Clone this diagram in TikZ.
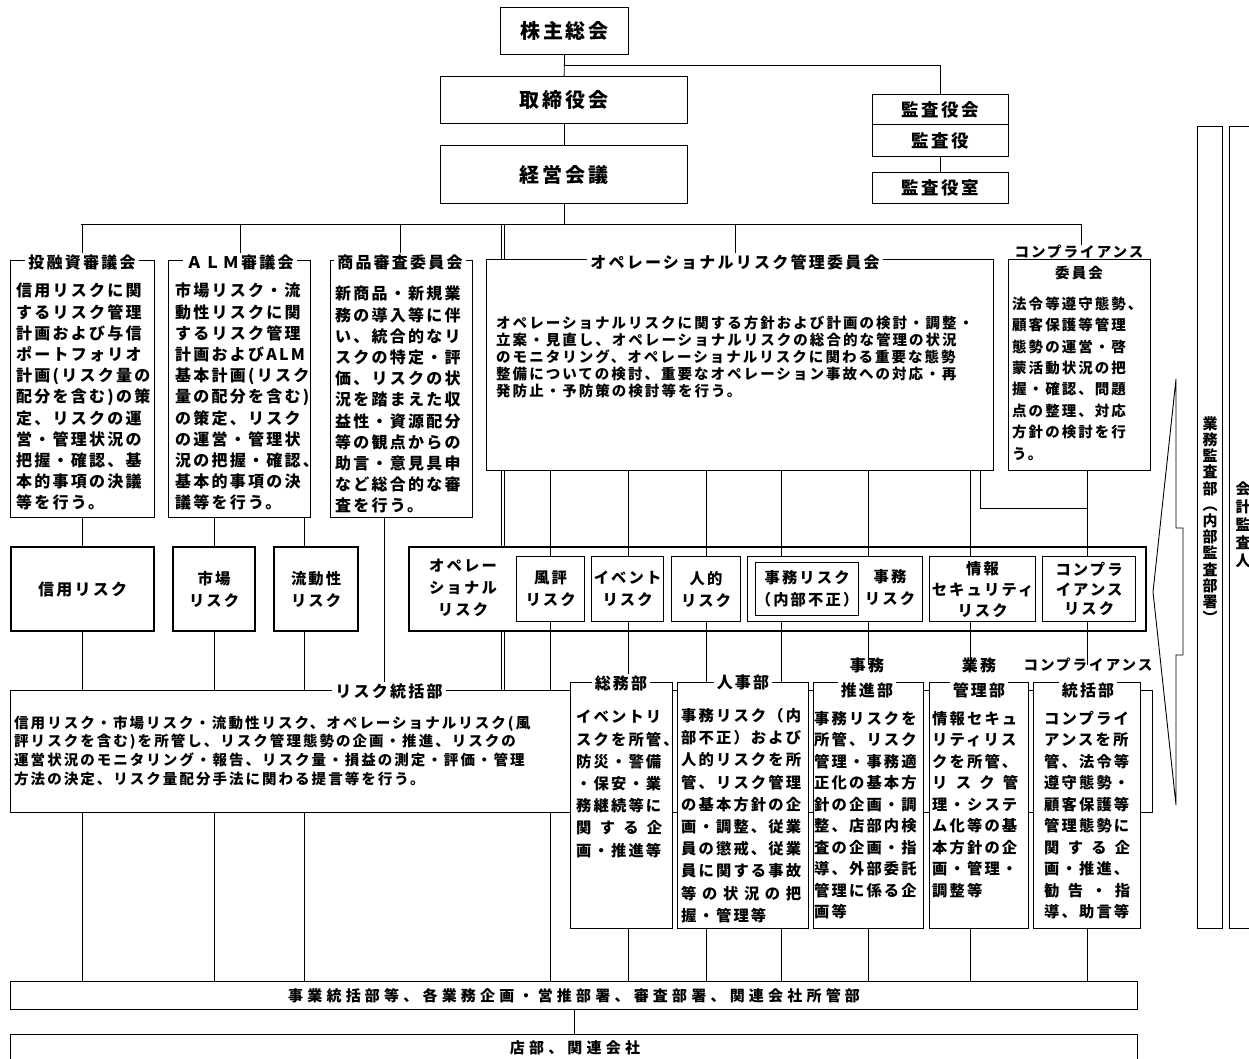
\documentclass[tikz,border=0pt]{standalone}
\usepackage{fontspec}
\newfontfamily\jp[LetterSpace=14]{Noto Sans CJK JP}
\newfontfamily\jpw[LetterSpace=28]{Noto Sans CJK JP}
\usetikzlibrary{calc}
\pgfdeclarelayer{bgfill}
\pgfdeclarelayer{bg}
\pgfsetlayers{bgfill,bg,main}
\newcommand\fBig{\jp\bfseries\fontsize{20}{24}\selectfont}
\newcommand\fKan{\jp\bfseries\fontsize{17.5}{20}\selectfont}
\newcommand\fCom{\jp\bfseries\fontsize{16}{21.2}\selectfont}
\newcommand\fOp{\jp\bfseries\fontsize{14.5}{17}\selectfont}
\newcommand\fRd{\jp\bfseries\fontsize{14.5}{18.8}\selectfont}
\newcommand\fDep{\jp\bfseries\fontsize{15.3}{21.5}\selectfont}
\newcommand\fDepB{\jp\bfseries\fontsize{15.3}{22.2}\selectfont}
\newcommand\fRisk{\jp\bfseries\fontsize{15.3}{22}\selectfont}
\newcommand\fBar{\jpw\bfseries\fontsize{15}{18}\selectfont}
\newcommand\fVert{\jp\bfseries\fontsize{15}{16.2}\selectfont}
\newcommand\BX[6][]{\node[box,#1,minimum width={#5-#3},minimum height={#6-#4}] (#2) at (#3,#4) {};}
\newcommand\JL[2]{\hbox to #1{#2}}
\begin{document}
\begin{tikzpicture}[x=1pt,y=-1pt,
  box/.style={draw,line width=1.2pt,fill=white,inner sep=0pt,anchor=north west},
  tbox/.style={line width=2.2pt},
  tx/.style={inner sep=0pt,anchor=north west,align=left},
  ttl/.style={fill=white,inner xsep=3pt,inner ysep=1pt,align=center},
  cen/.style={inner sep=0pt,align=center},
  ln/.style={line width=0.8pt}]
\begin{pgfonlayer}{bgfill}
\fill[white] (0,0) rectangle (1249,1059);
\end{pgfonlayer}
\useasboundingbox (0,0) rectangle (1249,1059);

% ---------- top ----------
\BX{kabu}{500}{7}{628}{54}
\node[cen,font=\fBig] (kabu-t) at (kabu) {株主総会};
\BX{tori}{440}{76}{687}{123}
\node[cen,font=\fBig] (tori-t) at (tori) {取締役会};
\BX{keiei}{440}{145}{687}{203}
\node[cen,font=\fBig] (keiei-t) at (keiei) {経営会議};
\BX{kansakai}{872}{94}{1008}{124}
\node[cen,font=\fKan] (kansakai-t) at (kansakai) {監査役会};
\BX{kansa}{872}{124}{1008}{156}
\node[cen,font=\fKan] (kansa-t) at (kansa) {監査役};
\BX{kansashitsu}{872}{172}{1008}{203}
\node[cen,font=\fKan] (kansashitsu-t) at (kansashitsu) {監査役室};

\coordinate (y65) at (0,65);
\coordinate (bus) at (0,224);
\coordinate (y508) at (0,508);
\foreach \n/\v in {x81/81,x1081/1081,x501/501,x504/504,x304/304,x384/384,x550/550,x628/628,x706/706,x781/781,x868/868,x970/970,x980/980,x1087/1087}
  \coordinate (\n) at (\v,0);

% ---------- committees ----------
\BX{tyu}{10}{260}{154}{517}
\node[ttl,font=\fCom] (tyu-h) at (82,262) {投融資審議会};
\node[tx,font=\fCom] (tyu-t) at (16,283) {信用リスクに関\\するリスク管理\\計画および与信\\ポートフォリオ\\計画(リスク量の\\配分を含む)の策\\定、リスクの運\\営・管理状況の\\把握・確認、基\\本的事項の決議\\等を行う。};

\BX{alm}{168}{260}{310}{517}
\node[ttl,font=\fCom] (alm-h) at (240,262) {ＡＬＭ審議会};
\node[tx,font=\fCom] (alm-t) at (175,283) {市場リスク・流\\動性リスクに関\\するリスク管理\\計画およびALM\\基本計画(リスク\\量の配分を含む)\\の策定、リスク\\の運営・管理状\\況の把握・確認、\\基本的事項の決\\議等を行う。};

\BX{shohin}{330}{260}{472}{517}
\node[ttl,font=\fCom] (shohin-h) at (400,262) {商品審査委員会};
\node[tx,font=\fCom] (shohin-t) at (335,286) {新商品・新規業\\務の導入等に伴\\い、統合的なリ\\スクの特定・評\\価、リスクの状\\況を踏まえた収\\益性・資源配分\\等の観点からの\\助言・意見具申\\など総合的な審\\査を行う。};

\BX{opc}{486}{259}{993}{470}
\node[ttl,font=\fCom] (opc-h) at (735,262) {オペレーショナルリスク管理委員会};
\node[tx,font=\fOp] (opc-t) at (496,315.5) {オペレーショナルリスクに関する方針および計画の検討・調整・\\立案・見直し、オペレーショナルリスクの総合的な管理の状況\\のモニタリング、オペレーショナルリスクに関わる重要な態勢\\整備についての検討、重要なオペレーション事故への対応・再\\発防止・予防策の検討等を行う。};

\BX{comc}{1008}{259}{1150}{470}
\node[ttl,font=\fOp,inner ysep=0pt] (comc-h1) at (1079,252) {コンプライアンス};
\node[cen,font=\fOp] (comc-h2) at (1079,273) {委員会};
\node[tx,font=\fOp,execute at begin node={\fontsize{14.5}{21.4}\selectfont}] (comc-t) at (1012,296.5) {法令等遵守態勢、\\顧客保護等管理\\態勢の運営・啓\\蒙活動状況の把\\握・確認、問題\\点の整理、対応\\方針の検討を行\\う。};

% ---------- risk row ----------
\BX[tbox]{shinyo}{10}{546}{153}{630}
\node[cen,font=\fCom] (shinyo-t) at (shinyo) {信用リスク};
\BX[tbox]{shijo}{172}{546}{254}{630}
\node[cen,font=\fRisk] (shijo-t) at (shijo) {市場\\リスク};
\BX[tbox]{ryudo}{273}{546}{357}{630}
\node[cen,font=\fRisk] (ryudo-t) at (ryudo) {流動性\\リスク};

\BX[tbox,fill=none]{opr}{408}{546}{1145}{630}
\node[cen,font=\fRisk] (opr-t) at (463,588) {オペレー\\ショナル\\リスク};
\BX{fuhyo}{516}{556}{584}{621}
\node[cen,font=\fRisk] (fuhyo-t) at (fuhyo) {風評\\リスク};
\BX{event}{591}{556}{663}{621}
\node[cen,font=\fRisk] (event-t) at (event) {イベント\\リスク};
\BX{jinteki}{671}{556}{740}{621}
\node[cen,font=\fRisk] (jinteki-t) at (jinteki) {人的\\リスク};
\BX{jimug}{747}{556}{922}{621}
\BX{jimuin}{755}{562}{858}{615}
\node[cen,font=\fRisk] (jimuin-t) at (jimuin) {事務リスク\\（内部不正）};
\node[cen,font=\fRisk] (jimu-t) at (890,588) {事務\\リスク};
\BX{joho}{929}{556}{1035}{621}
\node[cen,font=\fRisk,execute at begin node={\fontsize{15.3}{21}\selectfont}] (joho-t) at (joho) {情報\\セキュリティ\\リスク};
\BX{comr}{1042}{556}{1135}{621}
\node[cen,font=\fRisk,execute at begin node={\fontsize{15.3}{19.5}\selectfont}] (comr-t) at (comr) {コンプラ\\イアンス\\リスク};

% ---------- departments ----------
\BX{riskd}{10}{690}{1152}{812}
\node[ttl,font=\fCom] (riskd-h) at (389,691) {リスク統括部};
\node[tx,font=\fRd] (riskd-t) at (14,715.5) {信用リスク・市場リスク・流動性リスク、オペレーショナルリスク(風\\評リスクを含む)を所管し、リスク管理態勢の企画・推進、リスクの\\運営状況のモニタリング・報告、リスク量・損益の測定・評価・管理\\方法の決定、リスク量配分手法に関わる提言等を行う。};

\BX{somu}{570}{682}{672}{928}
\node[ttl,font=\fCom] (somu-h) at (621,683) {総務部};
\node[tx,font=\fDepB] (somu-t) at (576,710) {イベントリ\\スクを所管、\\防災・警備\\・保安・業\\務継続等に\\\JL{86pt}{関\hfill す\hfill る\hfill 企}\\画・推進等};

\BX{jinji}{677}{682}{808}{928}
\node[ttl,font=\fCom] (jinji-h) at (743,682) {人事部};
\node[tx,font=\fDepB] (jinji-t) at (681,708) {事務リスク（内\\部不正）および\\人的リスクを所\\管、リスク管理\\の基本方針の企\\画・調整、従業\\員の懲戒、従業\\員に関する事故\\\JL{120pt}{等\hfill の\hfill 状\hfill 況\hfill の\hfill 把}\\握・管理等};

\BX{jimus}{813}{682}{923}{928}
\node[cen,font=\fCom] (jimus-h1) at (867,665) {事務};
\node[ttl,font=\fCom] (jimus-h2) at (867,690) {推進部};
\node[tx,font=\fDep] (jimus-t) at (814,711) {事務リスクを\\所管、リスク\\管理・事務適\\正化の基本方\\針の企画・調\\整、店部内検\\査の企画・指\\導、外部委託\\管理に係る企\\画等};

\BX{gyomu}{929}{682}{1028}{928}
\node[cen,font=\fCom] (gyomu-h1) at (979,665) {業務};
\node[ttl,font=\fCom] (gyomu-h2) at (979,690) {管理部};
\node[tx,font=\fDep] (gyomu-t) at (932,711) {情報セキュ\\リティリス\\クを所管、\\\JL{86pt}{リ\hfill ス\hfill ク\hfill 管}\\理・システ\\ム化等の基\\本方針の企\\画・管理・\\調整等};

\BX{comd}{1033}{682}{1140}{928}
\node[cen,font=\fOp] (comd-h1) at (1088,665) {コンプライアンス};
\node[ttl,font=\fCom] (comd-h2) at (1088,690) {統括部};
\node[tx,font=\fDep] (comd-t) at (1044,711) {コンプライ\\アンスを所\\管、法令等\\遵守態勢・\\顧客保護等\\管理態勢に\\\JL{86pt}{関\hfill す\hfill る\hfill 企}\\画・推進、\\\JL{86pt}{勧\hfill 告\hfill ・\hfill 指}\\導、助言等};

% ---------- bottom ----------
\BX{jigyo}{10}{981}{1137}{1009}
\node[cen,font=\fBar] (jigyo-t) at (jigyo) {事業統括部等、各業務企画・営推部署、審査部署、関連会社所管部};
\BX{tenbu}{10}{1034}{1137}{1080}
\node[cen,font=\fBar] (tenbu-t) at (575,1048) {店部、関連会社};

% ---------- right ----------
\BX{gyokan}{1197}{126}{1222}{928}
\node[cen,font=\fVert] (gyokan-t) at (1210,520) {業\\務\\監\\査\\部\\︵\\内\\部\\監\\査\\部\\署\\︶};
\BX{kaikei}{1229}{126}{1265}{928}
\node[cen,font=\fVert,execute at begin node={\fontsize{15}{18}\selectfont}] (kaikei-t) at (1243,525) {会\\計\\監\\査\\人};
\draw[line width=0.9pt,fill=white] (1183,528) -- (1176,528) -- (1176,379) -- (1153,592) -- (1176,805) -- (1176,655) -- (1183,655) -- cycle;

% ---------- connectors ----------
\begin{pgfonlayer}{bg}
\draw[ln] (kabu.south) -- (tori.north);
\draw[ln] (kabu.south |- y65) -- (kansakai.north |- y65) -- (kansakai.north);
\draw[ln] (kansa.south) -- (kansashitsu.north);
\draw[ln] (tori.south) -- (keiei.north);
\draw[ln] (keiei.south) -- (keiei.south |- bus);
\draw[ln] (x81 |- bus) -- (x1081 |- bus);
\draw[ln] (tyu-h.center |- bus) -- (tyu-h.center);
\draw[ln] (alm-h.center |- bus) -- (alm-h.center);
\draw[ln] (shohin-h.center |- bus) -- (shohin-h.center);
\draw[ln] (opc-h.center |- bus) -- (opc-h.center);
\draw[ln] (x1081 |- bus) -- (comc-h1.center -| x1081);
\draw[ln] (x501 |- bus) -- (opr.north -| x501);
\draw[ln] (x504 |- bus) -- (opr.north -| x504);
\draw[ln] (opr.south -| x501) -- (riskd.north -| x501);
\draw[ln] (opr.south -| x504) -- (riskd.north -| x504);
% credit / market / liquidity
\draw[ln] (tyu.south -| shinyo.north) -- (shinyo.north);
\draw[ln] (shinyo.south) -- (riskd.north -| shinyo.south);
\draw[ln] (riskd.south -| shinyo.south) -- (jigyo.north -| shinyo.south);
\draw[ln] (alm.south -| shijo.north) -- (shijo.north);
\draw[ln] (shijo.south) -- (riskd.north -| shijo.south);
\draw[ln] (riskd.south -| shijo.south) -- (jigyo.north -| shijo.south);
\draw[ln] (alm.south -| x304) -- (ryudo.north -| x304);
\draw[ln] (ryudo.south -| x304) -- (riskd.north -| x304);
\draw[ln] (riskd.south -| x304) -- (jigyo.north -| x304);
\draw[ln] (shohin.south -| x384) -- (riskd.north -| x384);
% operational
\draw[ln] (opc.south -| x550) -- (riskd.north -| x550);
\draw[ln] (riskd.south -| x550) -- (jigyo.north -| x550);
\draw[ln] (opc.south -| x628) -- (somu.north -| x628);
\draw[ln] (somu.south -| x628) -- (jigyo.north -| x628);
\draw[ln] (opc.south -| x706) -- (jinji.north -| x706);
\draw[ln] (jinji.south -| x706) -- (jigyo.north -| x706);
\draw[ln] (opc.south -| x781) -- (jinji.north -| x781);
\draw[ln] (jinji.south -| x781) -- (jigyo.north -| x781);
\draw[ln] (opc.south -| x868) -- (jimus-h1.center -| x868);
\draw[ln] (jimus.south -| x868) -- (jigyo.north -| x868);
\draw[ln] (opc.south -| x970) -- (gyomu-h1.center -| x970);
\draw[ln] (gyomu.south -| x970) -- (jigyo.north -| x970);
\draw[ln] (opc.south -| x980) -- (x980 |- y508) -- (x1087 |- y508);
\draw[ln] (comc.south -| x1087) -- (comd-h1.center -| x1087);
\draw[ln] (comd.south -| x1087) -- (jigyo.north -| x1087);
\draw[ln] (jigyo.south) -- (tenbu.north);
\end{pgfonlayer}
\end{tikzpicture}
\end{document}
